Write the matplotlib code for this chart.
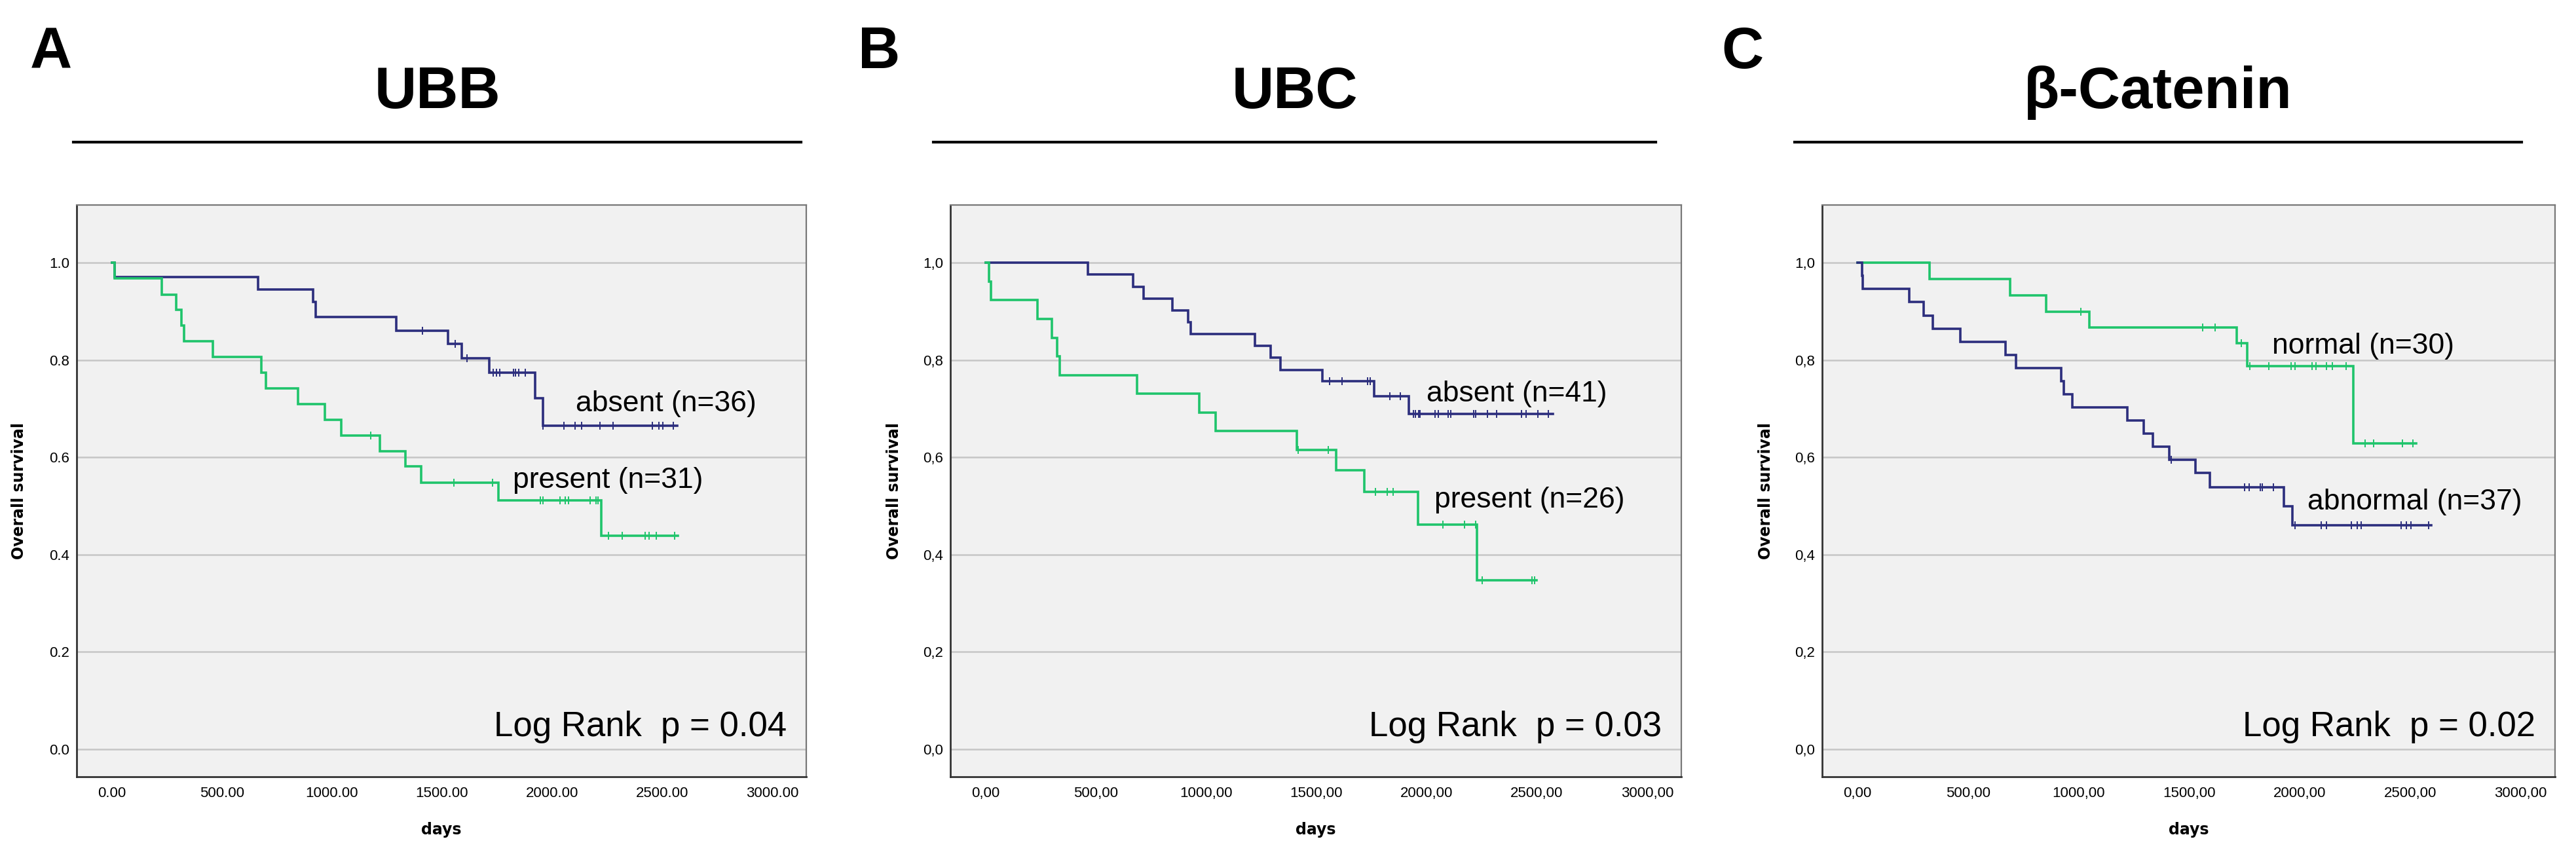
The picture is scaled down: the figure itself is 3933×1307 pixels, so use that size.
import numpy as np
import matplotlib
matplotlib.use("Agg")
import matplotlib.pyplot as plt
from matplotlib.lines import Line2D

plt.rcParams['font.family'] = ['Liberation Sans', 'DejaVu Sans']

BLUE = '#2c2e7d'
GREEN = '#1fc46b'

# ---- Panel A: UBB ----
ubb_absent_t = [0, 13, 663, 915, 925, 1291, 1527, 1590, 1715, 1922, 1960]
ubb_absent_s = [1.0, 0.971, 0.945, 0.919, 0.889, 0.861, 0.833, 0.804, 0.774, 0.722, 0.665]
ubb_absent_end = 2570
ubb_absent_cens = [1412, 1561, 1614, 1733, 1747, 1762, 1824, 1835, 1850, 1879, 1960,
                   2053, 2104, 2133, 2219, 2276, 2457, 2484, 2504, 2552]

ubb_present_t = [0, 13, 226, 293, 315, 329, 458, 680, 699, 845, 967, 1041, 1217, 1335,
                 1405, 1757, 2224]
ubb_present_s = [1.0, 0.968, 0.935, 0.903, 0.871, 0.839, 0.806, 0.774, 0.742, 0.710,
                 0.677, 0.645, 0.613, 0.581, 0.548, 0.512, 0.439]
ubb_present_end = 2573
ubb_present_cens = [1175, 1554, 1729, 1946, 1958, 2037, 2059, 2074, 2173, 2200, 2208,
                    2255, 2318, 2424, 2442, 2473, 2556]

# ---- Panel B: UBC ----
ubc_absent_t = [0, 463, 670, 716, 848, 918, 931, 1220, 1294, 1336, 1527, 1762, 1920]
ubc_absent_s = [1.0, 0.976, 0.951, 0.927, 0.902, 0.878, 0.854, 0.829, 0.805, 0.780,
                0.756, 0.726, 0.689]
ubc_absent_end = 2573
ubc_absent_cens = [1560, 1617, 1732, 1745, 1833, 1881, 1940, 1950, 1965, 1970, 2039,
                   2054, 2098, 2108, 2212, 2222, 2277, 2316, 2430, 2450, 2504, 2553]

ubc_present_t = [0, 15, 25, 236, 300, 324, 337, 687, 970, 1043, 1410, 1590, 1716, 1960, 2227]
ubc_present_s = [1.0, 0.962, 0.923, 0.885, 0.846, 0.808, 0.769, 0.731, 0.692, 0.654,
                 0.615, 0.573, 0.529, 0.461, 0.347]
ubc_present_end = 2499
ubc_present_cens = [1418, 1555, 1769, 1822, 1848, 2074, 2173, 2222, 2252, 2479, 2489]

# ---- Panel C: beta-catenin ----
cat_normal_t = [0, 326, 689, 852, 1050, 1715, 1763, 2242]
cat_normal_s = [1.0, 0.967, 0.933, 0.900, 0.867, 0.835, 0.787, 0.629]
cat_normal_end = 2527
cat_normal_cens = [1010, 1561, 1618, 1735, 1775, 1861, 1960, 1980, 2055, 2073, 2122,
                   2148, 2210, 2297, 2334, 2464, 2513]

cat_abnormal_t = [0, 20, 25, 234, 300, 340, 465, 670, 716, 921, 933, 973, 1220, 1294,
                  1337, 1409, 1528, 1594, 1930, 1968]
cat_abnormal_s = [1.0, 0.973, 0.946, 0.919, 0.892, 0.865, 0.838, 0.811, 0.784, 0.757,
                  0.730, 0.703, 0.676, 0.649, 0.622, 0.595, 0.568, 0.539, 0.500, 0.460]
cat_abnormal_end = 2595
cat_abnormal_cens = [1418, 1752, 1772, 1821, 1832, 1880, 1980, 2098, 2122, 2235, 2260,
                     2279, 2459, 2483, 2504, 2584]

x_ticks = [0, 500, 1000, 1500, 2000, 2500, 3000]
y_ticks = [0.0, 0.2, 0.4, 0.6, 0.8, 1.0]

panels = [
    dict(letter='A', title='UBB', dec='.', p='Log Rank  p = 0.04',
         curves=[(ubb_absent_t, ubb_absent_s, ubb_absent_end, ubb_absent_cens, BLUE),
                 (ubb_present_t, ubb_present_s, ubb_present_end, ubb_present_cens, GREEN)],
         labels=[('absent (n=36)', 2107, 0.694), ('present (n=31)', 1822, 0.537)]),
    dict(letter='B', title='UBC', dec=',', p='Log Rank  p = 0.03',
         curves=[(ubc_absent_t, ubc_absent_s, ubc_absent_end, ubc_absent_cens, BLUE),
                 (ubc_present_t, ubc_present_s, ubc_present_end, ubc_present_cens, GREEN)],
         labels=[('absent (n=41)', 2000, 0.715), ('present (n=26)', 2034, 0.497)]),
    dict(letter='C', title='β-Catenin', dec=',', p='Log Rank  p = 0.02',
         curves=[(cat_normal_t, cat_normal_s, cat_normal_end, cat_normal_cens, GREEN),
                 (cat_abnormal_t, cat_abnormal_s, cat_abnormal_end, cat_abnormal_cens, BLUE)],
         labels=[('normal (n=30)', 1874, 0.813), ('abnormal (n=37)', 2035, 0.492)]),
]

W, H = 3933, 1307
fig = plt.figure(figsize=(W / 100, H / 100), dpi=100)

# pixel layout: axes left/right, header line span, letter x
axes_px = [(117, 1231), (1451, 2567), (2782, 3901)]
header_px = [(112, 1223, 46), (1425, 2528, 1310), (2740, 3850, 2628)]
ax_top, ax_bot = 313, 1186
ylab_x = [29, 1365, 2696]


def km_curve(ax, t, s, end, cens, color):
    xs = list(t) + [end]
    ys = list(s) + [s[-1]]
    ax.step(xs, ys, where='post', color=color, lw=2.6, solid_joinstyle='miter')
    idx = np.searchsorted(t, cens, side='right') - 1
    cy = np.array(s)[idx]
    ax.plot(cens, cy, ls='none', marker='|', ms=8, mew=1.4, color=color)


for i, pn in enumerate(panels):
    l, r = axes_px[i]
    ax = fig.add_axes([l / W, 1 - ax_bot / H, (r - l) / W, (ax_bot - ax_top) / H])
    ax.set_facecolor('#f1f1f1')
    ax.set_xlim(-160, 3155)
    ax.set_ylim(-0.057, 1.119)
    for yv in y_ticks:
        ax.axhline(yv, color='#c6c6c6', lw=1.8, zorder=0)
    for c in pn['curves']:
        km_curve(ax, *c)
    for txt, xd, yd in pn['labels']:
        ax.text(xd, yd, txt, fontsize=32, va='baseline', ha='left', color='black')
    ax.text(0.973, (0.027 + 0.057) / 1.176, pn['p'], transform=ax.transAxes,
            fontsize=38, ha='right', va='baseline')
    ax.set_xticks(x_ticks)
    ax.set_xticklabels([f'{v:.2f}'.replace('.', pn['dec']) for v in x_ticks], fontsize=16)
    ax.set_yticks(y_ticks)
    ax.set_yticklabels([f'{v:.1f}'.replace('.', pn['dec']) for v in y_ticks], fontsize=16)
    ax.tick_params(length=0, pad=11)
    ax.tick_params(axis='y', pad=8)
    for side in ['left', 'bottom']:
        ax.spines[side].set_color('#333333')
        ax.spines[side].set_linewidth(2.0)
    for side in ['top', 'right']:
        ax.spines[side].set_color('#777777')
        ax.spines[side].set_linewidth(1.6)
    fig.text(((l + r) / 2) / W, 1 - 1267 / H, 'days', fontsize=17, fontweight='bold',
             family='DejaVu Sans', ha='center', va='center')
    fig.text(ylab_x[i] / W, 1 - ((ax_top + ax_bot) / 2) / H, 'Overall survival',
             fontsize=17, fontweight='bold', family='DejaVu Sans', rotation=90,
             ha='center', va='center')

    hl, hr, lx = header_px[i]
    fig.add_artist(Line2D([hl / W, hr / W], [1 - 217 / H, 1 - 217 / H], color='black',
                          lw=3.0, transform=fig.transFigure))
    fig.text(((hl + hr) / 2) / W, 1 - 165 / H, pn['title'], fontsize=64, fontweight='bold',
             ha='center', va='baseline')
    fig.text(lx / W, 1 - 104 / H, pn['letter'], fontsize=64, fontweight='bold',
             ha='left', va='baseline')

fig.savefig('out.png', dpi=100, facecolor='white')
